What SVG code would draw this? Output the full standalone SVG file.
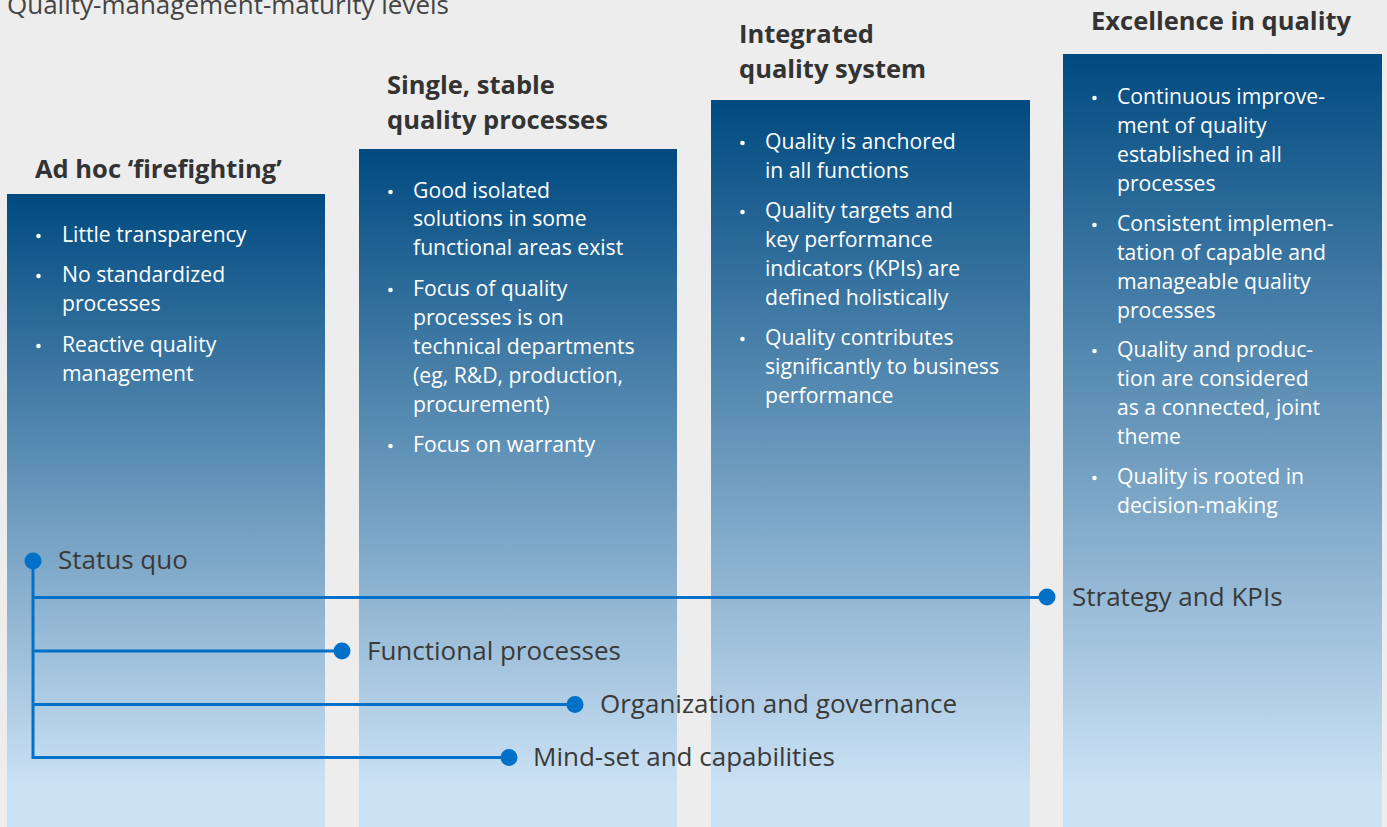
<svg xmlns="http://www.w3.org/2000/svg" width="1387" height="827" viewBox="0 0 1387 827">
  <defs>
    <linearGradient id="g1" gradientUnits="userSpaceOnUse" x1="0" y1="194" x2="0" y2="785">
      <stop offset="0" stop-color="#004a80"/>
      <stop offset="1" stop-color="#cbe1f4"/>
    </linearGradient>
    <linearGradient id="g2" gradientUnits="userSpaceOnUse" x1="0" y1="149" x2="0" y2="785">
      <stop offset="0" stop-color="#004a80"/>
      <stop offset="1" stop-color="#cbe1f4"/>
    </linearGradient>
    <linearGradient id="g3" gradientUnits="userSpaceOnUse" x1="0" y1="100" x2="0" y2="785">
      <stop offset="0" stop-color="#004a80"/>
      <stop offset="1" stop-color="#cbe1f4"/>
    </linearGradient>
    <linearGradient id="g4" gradientUnits="userSpaceOnUse" x1="0" y1="54" x2="0" y2="785">
      <stop offset="0" stop-color="#004a80"/>
      <stop offset="1" stop-color="#cbe1f4"/>
    </linearGradient>
    <style>
      .title { font-family: "Open Sans", "Liberation Sans", sans-serif; font-size: 26px; fill: #444; }
      .head { font-family: "Open Sans", "Liberation Sans", sans-serif; font-size: 25.5px; font-weight: bold; fill: #333; }
      .item { font-family: "Open Sans", "Liberation Sans", sans-serif; font-size: 21.2px; fill: #fff; }
      .bullet { fill: #fff; }
      .label { font-family: "Open Sans", "Liberation Sans", sans-serif; font-size: 26px; fill: #3a3a3a; }
      .wire { fill: none; stroke: #0070c8; stroke-width: 3; }
      .dot { fill: #0070c8; }
    </style>
  </defs>

  <rect width="1387" height="827" fill="#ededed"/>

  <text class="title" x="7" y="14">Quality-management-maturity levels</text>

  <!-- Level 1 -->
  <g id="level-adhoc">
    <text class="head" x="35" y="178">Ad hoc ‘firefighting’</text>
    <rect x="7" y="194" width="318" height="633" fill="url(#g1)"/>
    <g class="bullet">
      <circle cx="38.5" cy="236" r="2.3"/>
      <circle cx="38.5" cy="276" r="2.3"/>
      <circle cx="38.5" cy="346" r="2.3"/>
    </g>
    <g class="item">
      <text x="62" y="242">Little transparency</text>
      <text x="62" y="282">No standardized</text>
      <text x="62" y="311">processes</text>
      <text x="62" y="352">Reactive quality</text>
      <text x="62" y="381">management</text>
    </g>
  </g>

  <!-- Level 2 -->
  <g id="level-single">
    <text class="head" x="387" y="94">Single, stable</text>
    <text class="head" x="387" y="129">quality processes</text>
    <rect x="359" y="149" width="318" height="678" fill="url(#g2)"/>
    <g class="bullet">
      <circle cx="390.5" cy="192" r="2.3"/>
      <circle cx="390.5" cy="290" r="2.3"/>
      <circle cx="390.5" cy="446" r="2.3"/>
    </g>
    <g class="item">
      <text x="413" y="198">Good isolated</text>
      <text x="413" y="226">solutions in some</text>
      <text x="413" y="255">functional areas exist</text>
      <text x="413" y="296">Focus of quality</text>
      <text x="413" y="325">processes is on</text>
      <text x="413" y="354">technical departments</text>
      <text x="413" y="383">(eg, R&amp;D, production,</text>
      <text x="413" y="412">procurement)</text>
      <text x="413" y="452">Focus on warranty</text>
    </g>
  </g>

  <!-- Level 3 -->
  <g id="level-integrated">
    <text class="head" x="739" y="43">Integrated</text>
    <text class="head" x="739" y="78">quality system</text>
    <rect x="711" y="100" width="319" height="727" fill="url(#g3)"/>
    <g class="bullet">
      <circle cx="742.5" cy="143" r="2.3"/>
      <circle cx="742.5" cy="212" r="2.3"/>
      <circle cx="742.5" cy="339" r="2.3"/>
    </g>
    <g class="item">
      <text x="765" y="149">Quality is anchored</text>
      <text x="765" y="178">in all functions</text>
      <text x="765" y="218">Quality targets and</text>
      <text x="765" y="247">key performance</text>
      <text x="765" y="276">indicators (KPIs) are</text>
      <text x="765" y="305">defined holistically</text>
      <text x="765" y="345">Quality contributes</text>
      <text x="765" y="374">significantly to business</text>
      <text x="765" y="403">performance</text>
    </g>
  </g>

  <!-- Level 4 -->
  <g id="level-excellence">
    <text class="head" x="1091" y="30">Excellence in quality</text>
    <rect x="1063" y="54" width="319" height="773" fill="url(#g4)"/>
    <g class="bullet">
      <circle cx="1094.5" cy="98" r="2.3"/>
      <circle cx="1094.5" cy="225" r="2.3"/>
      <circle cx="1094.5" cy="351" r="2.3"/>
      <circle cx="1094.5" cy="478" r="2.3"/>
    </g>
    <g class="item">
      <text x="1117" y="104">Continuous improve-</text>
      <text x="1117" y="133">ment of quality</text>
      <text x="1117" y="162">established in all</text>
      <text x="1117" y="191">processes</text>
      <text x="1117" y="231">Consistent implemen-</text>
      <text x="1117" y="260">tation of capable and</text>
      <text x="1117" y="289">manageable quality</text>
      <text x="1117" y="318">processes</text>
      <text x="1117" y="357">Quality and produc-</text>
      <text x="1117" y="386">tion are considered</text>
      <text x="1117" y="415">as a connected, joint</text>
      <text x="1117" y="444">theme</text>
      <text x="1117" y="484">Quality is rooted in</text>
      <text x="1117" y="513">decision-making</text>
    </g>
  </g>

  <!-- Dimension tree -->
  <g id="connectors">
    <path class="wire" d="M33 561 V757.5 H509 M33 597.5 H1047 M33 651 H342 M33 704.5 H575"/>
  </g>
  <g id="status-quo">
    <circle class="dot" cx="33" cy="561" r="8.5"/>
    <text class="label" x="58" y="569">Status quo</text>
  </g>
  <g id="strategy">
    <circle class="dot" cx="1047" cy="597" r="8.5"/>
    <text class="label" x="1072" y="606">Strategy and KPIs</text>
  </g>
  <g id="functional">
    <circle class="dot" cx="342" cy="651" r="8.5"/>
    <text class="label" x="367" y="660">Functional processes</text>
  </g>
  <g id="organization">
    <circle class="dot" cx="575" cy="704.5" r="8.5"/>
    <text class="label" x="600" y="713">Organization and governance</text>
  </g>
  <g id="mindset">
    <circle class="dot" cx="509" cy="757.5" r="8.5"/>
    <text class="label" x="533" y="766">Mind-set and capabilities</text>
  </g>
</svg>
